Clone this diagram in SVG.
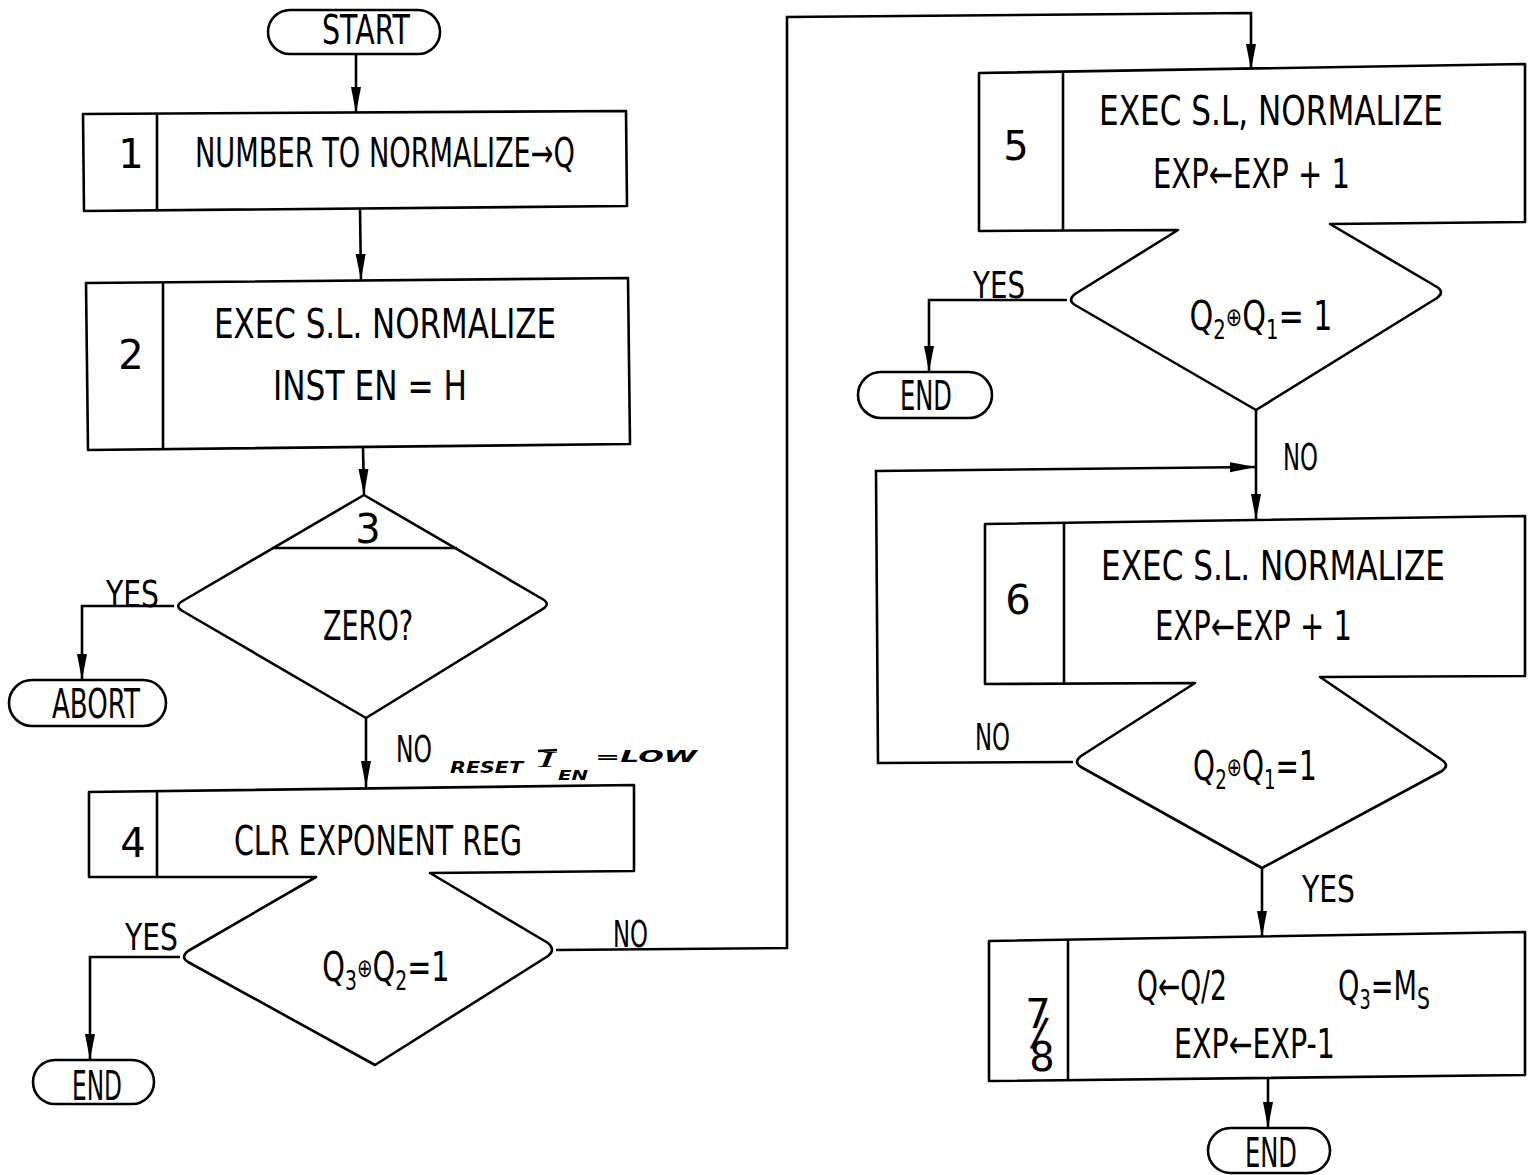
<svg xmlns="http://www.w3.org/2000/svg" width="1528" height="1175" viewBox="0 0 1528 1175">
<defs>
<style>
.s{fill:none;stroke:#000;stroke-width:2.6;stroke-linejoin:round}
.w{fill:#fff;stroke:#000;stroke-width:2.6;stroke-linejoin:round}
.t{font-family:"DejaVu Sans","Liberation Sans",sans-serif;font-size:40px;fill:#000}
.l{font-family:"DejaVu Sans","Liberation Sans",sans-serif;font-size:37px;fill:#000}
.h{font-family:"DejaVu Sans","Liberation Sans",sans-serif;font-style:italic;font-weight:bold;fill:#000}
.c{stroke:#000;stroke-width:2.6;fill:none;marker-end:url(#ah)}
.n{stroke:#000;stroke-width:2.6;fill:none}
</style>
<marker id="ah" viewBox="0 0 26 12" refX="26" refY="6" markerWidth="26" markerHeight="12" markerUnits="userSpaceOnUse" orient="auto">
<path d="M0,1 L26,6 L0,11 z" fill="#000"/>
</marker>
</defs>
<rect width="1528" height="1175" fill="#fff"/>

<g id="connectors">
<path class="c" d="M356,54 L356,113"/>
<path class="c" d="M360,209 L361,280"/>
<path class="c" d="M363,448 L364,495"/>
<path class="c" d="M174,606 L82,606 L82,680"/>
<path class="c" d="M366,718 L366,787"/>
<path class="c" d="M180,957 L90,957 L90,1060"/>
<path class="c" d="M556,950 L787,948 L787,17 L1251,13 L1251,70"/>
<path class="c" d="M1067,300 L929,300 L929,372"/>
<path class="c" d="M1256,410 L1256,520"/>
<path class="c" d="M1073,762 L878,763 L876,471 L1256,467"/>
<path class="c" d="M1262,868 L1262,937"/>
<path class="c" d="M1268,1078 L1268,1128"/>
<text class="l" x="106" y="607" textLength="53" lengthAdjust="spacingAndGlyphs">YES</text>
<text class="l" x="396" y="762" textLength="36" lengthAdjust="spacingAndGlyphs">NO</text>
<text class="l" x="125" y="950" textLength="53" lengthAdjust="spacingAndGlyphs">YES</text>
<text class="l" x="613" y="947" textLength="35" lengthAdjust="spacingAndGlyphs">NO</text>
<text class="l" x="973" y="298" textLength="52" lengthAdjust="spacingAndGlyphs">YES</text>
<text class="l" x="1283" y="470" textLength="35" lengthAdjust="spacingAndGlyphs">NO</text>
<text class="l" x="975" y="750" textLength="35" lengthAdjust="spacingAndGlyphs">NO</text>
<text class="l" x="1302" y="902" textLength="53" lengthAdjust="spacingAndGlyphs">YES</text>
</g>

<g id="annotation">
<text class="h" x="450" y="773" font-size="16" textLength="73" lengthAdjust="spacingAndGlyphs">RESET</text>
<text x="538" y="767" font-family="'Liberation Serif',serif" font-style="italic" font-size="23" textLength="17" lengthAdjust="spacingAndGlyphs">I</text>
<line class="n" x1="538" y1="751" x2="557" y2="750" stroke-width="2.2"/>
<text class="h" x="558" y="780" font-size="14" textLength="30" lengthAdjust="spacingAndGlyphs">EN</text>
<text class="h" x="595" y="762" font-size="15" textLength="102" lengthAdjust="spacingAndGlyphs">=LOW</text>
</g>

<g id="start">
<rect class="w" x="268" y="10" width="172" height="44" rx="22"/>
<text class="t" x="322" y="44" textLength="88" lengthAdjust="spacingAndGlyphs">START</text>
</g>

<g id="step1">
<polygon class="w" points="83,114 626,111 627,206 84,211"/>
<line class="n" x1="157" y1="113" x2="157" y2="210"/>
<text class="t" x="131" y="168" text-anchor="middle">1</text>
<text class="t" x="195" y="167" textLength="380" lengthAdjust="spacingAndGlyphs">NUMBER TO NORMALIZE→Q</text>
</g>

<g id="step2">
<polygon class="w" points="86,283 628,278 630,444 88,450"/>
<line class="n" x1="163" y1="282" x2="163" y2="449"/>
<text class="t" x="131" y="369" text-anchor="middle">2</text>
<text class="t" x="214" y="338" textLength="342" lengthAdjust="spacingAndGlyphs">EXEC S.L. NORMALIZE</text>
<text class="t" x="273" y="400" textLength="194" lengthAdjust="spacingAndGlyphs">INST EN = H</text>
</g>

<g id="step3">
<path class="w" d="M364,495 L542.4,599 Q551,604 542.5,609.2 L366,718 L182.5,611 Q174,606 182.6,601 Z"/>
<line class="n" x1="272" y1="548" x2="457" y2="548"/>
<text class="t" x="368" y="543" text-anchor="middle">3</text>
<text class="t" x="323" y="640" textLength="90" lengthAdjust="spacingAndGlyphs">ZERO?</text>
</g>

<g id="abort">
<rect class="w" x="9" y="680" width="157" height="46" rx="23"/>
<text class="t" x="52" y="718" textLength="88" lengthAdjust="spacingAndGlyphs">ABORT</text>
</g>

<g id="step4">
<path class="w" d="M316,877 L89,877 L89,792 L634,785 L634,871 L430,873 L548,943 Q556,950 548,956 L375,1065 L188,962 Q180,957 188,951 Z"/>
<line class="n" x1="157" y1="791" x2="157" y2="877"/>
<text class="t" x="133" y="857" text-anchor="middle">4</text>
<text class="t" x="234" y="855" textLength="288" lengthAdjust="spacingAndGlyphs">CLR EXPONENT REG</text>
<g transform="translate(386,981) scale(0.72,1)">
<text class="t" text-anchor="middle">Q<tspan font-size="26" dy="9">3</tspan><tspan font-size="26" dy="-13">⊕</tspan><tspan dy="4">Q</tspan><tspan font-size="26" dy="9">2</tspan><tspan dy="-9">=1</tspan></text>
</g>
</g>

<g id="end1">
<rect class="w" x="33" y="1060" width="121" height="44" rx="22"/>
<text class="t" x="72" y="1100" textLength="50" lengthAdjust="spacingAndGlyphs">END</text>
</g>

<g id="step5">
<path class="w" d="M1178,230 L979,231 L979,73 L1525,64 L1525,222 L1330,224 L1437,287 Q1445,292 1437,298 L1256,410 L1075,305 Q1067,300 1075,294 Z"/>
<line class="n" x1="1063" y1="72" x2="1063" y2="230"/>
<text class="t" x="1016" y="160" text-anchor="middle">5</text>
<g transform="translate(1099,125) scale(0.778,1)">
<text class="t" x="0" y="0">EXEC S.L, NORMALIZE</text>
</g>
<text class="t" x="1153" y="188" textLength="197" lengthAdjust="spacingAndGlyphs">EXP←EXP + 1</text>
<g transform="translate(1261,330) scale(0.755,1)">
<text class="t" text-anchor="middle">Q<tspan font-size="26" dy="9">2</tspan><tspan font-size="26" dy="-13">⊕</tspan><tspan dy="4">Q</tspan><tspan font-size="26" dy="9">1</tspan><tspan dy="-9">= 1</tspan></text>
</g>
</g>

<g id="end2">
<rect class="w" x="858" y="372" width="134" height="46" rx="23"/>
<text class="t" x="900" y="410" textLength="52" lengthAdjust="spacingAndGlyphs">END</text>
</g>

<g id="step6">
<path class="w" d="M1195,683 L985,684 L985,524 L1525,516 L1525,676 L1320,677 L1442,760 Q1450,765 1442,771 L1262,868 L1081,767 Q1073,762 1081,756 Z"/>
<line class="n" x1="1064" y1="523" x2="1064" y2="684"/>
<text class="t" x="1018" y="614" text-anchor="middle">6</text>
<g transform="translate(1101,580) scale(0.778,1)">
<text class="t" x="0" y="0">EXEC S.L. NORMALIZE</text>
</g>
<text class="t" x="1155" y="640" textLength="197" lengthAdjust="spacingAndGlyphs">EXP←EXP + 1</text>
<g transform="translate(1255,780) scale(0.70,1)">
<text class="t" text-anchor="middle">Q<tspan font-size="26" dy="9">2</tspan><tspan font-size="26" dy="-13">⊕</tspan><tspan dy="4">Q</tspan><tspan font-size="26" dy="9">1</tspan><tspan dy="-9">=1</tspan></text>
</g>
</g>

<g id="step78">
<polygon class="w" points="989,941 1525,932 1525,1075 989,1081"/>
<line class="n" x1="1068" y1="940" x2="1068" y2="1080"/>
<text class="t" x="1038" y="1028" text-anchor="middle" font-size="34">7</text>
<text class="t" x="1040" y="1046" text-anchor="middle" font-size="40" transform="rotate(10,1040,1030)">/</text>
<text class="t" x="1042" y="1071" text-anchor="middle" font-size="38">8</text>
<text class="t" x="1137" y="1000" textLength="90" lengthAdjust="spacingAndGlyphs">Q←Q/2</text>
<g transform="translate(1338,1000) scale(0.68,1)">
<text class="t">Q<tspan font-size="26" dy="9">3</tspan><tspan dy="-9">=M</tspan><tspan font-size="30" dy="9">S</tspan></text>
</g>
<text class="t" x="1174" y="1058" textLength="161" lengthAdjust="spacingAndGlyphs">EXP←EXP-1</text>
</g>

<g id="end3">
<rect class="w" x="1208" y="1128" width="122" height="45" rx="22.5"/>
<text class="t" x="1245" y="1167" textLength="52" lengthAdjust="spacingAndGlyphs">END</text>
</g>
</svg>
